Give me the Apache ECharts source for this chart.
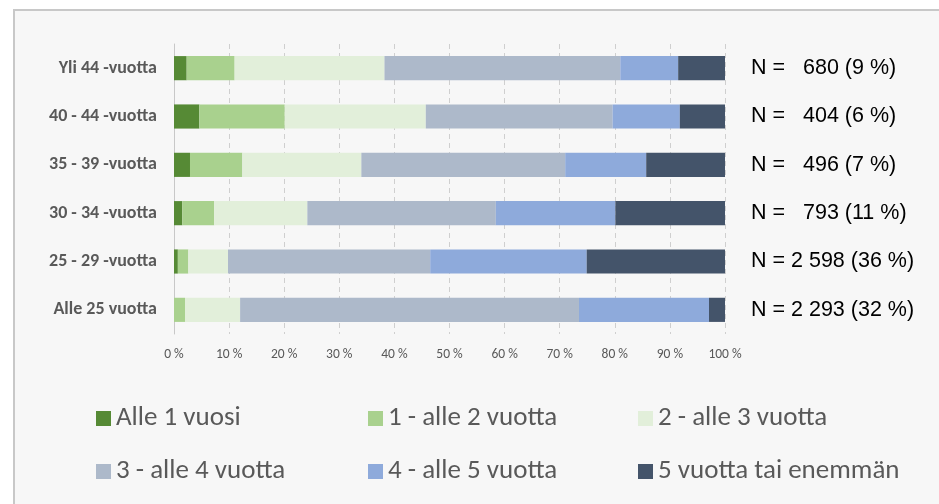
<!DOCTYPE html>
<html>
<head>
<meta charset="utf-8">
<script src="https://cdn.jsdelivr.net/npm/echarts@6/dist/echarts.min.js"></script>
<style>html,body{margin:0;padding:0;background:#fff}#c{width:939px;height:504px}</style>
</head>
<body>
<div id="c"></div>
<script>
// Categories (top to bottom)
const categories = ["Yli 44 -vuotta", "40 - 44 -vuotta", "35 - 39 -vuotta", "30 - 34 -vuotta", "25 - 29 -vuotta", "Alle 25 vuotta"];
const nLabels = ["N =   680 (9 %)", "N =   404 (6 %)", "N =   496 (7 %)", "N =   793 (11 %)", "N = 2 598 (36 %)", "N = 2 293 (32 %)"];
const seriesNames = ["Alle 1 vuosi", "1 - alle 2 vuotta", "2 - alle 3 vuotta", "3 - alle 4 vuotta", "4 - alle 5 vuotta", "5 vuotta tai enemmän"];
// Percent values per series, in category order (top to bottom)
const alle1 = [2.3, 4.6, 2.9, 1.5, 0.7, 0.0];
const v1to2 = [8.7, 15.5, 9.5, 5.8, 1.9, 2.0];
const v2to3 = [27.2, 25.6, 21.6, 16.9, 7.2, 10.0];
const v3to4 = [42.8, 33.9, 37.0, 34.2, 36.7, 61.5];
const v4to5 = [10.5, 12.2, 14.7, 21.7, 28.4, 23.6];
const v5plus = [8.5, 8.2, 14.3, 19.9, 25.1, 2.9];
const xTicks = [0, 10, 20, 30, 40, 50, 60, 70, 80, 90, 100];

const colors = ["#568a35", "#a9d18e", "#e2efda", "#adb9ca", "#8eaadb", "#44546a"];
const values = [alle1, v1to2, v2to3, v3to4, v4to5, v5plus];

const chart = echarts.init(document.getElementById('c'), null, {renderer: 'canvas'});
const legendFont = {fontFamily: 'Carlito, Lato', fontSize: 27, color: '#595959', lineHeight: 26};
const legendBase = {orient: 'vertical', top: 405, itemWidth: 15, itemHeight: 15, itemGap: 26, icon: 'rect', textStyle: legendFont, padding: 0};
chart.setOption({
  backgroundColor: '#ffffff',
  animation: false,
  graphic: [{type: 'rect', left: 13, top: 9, z: -10, shape: {width: 940, height: 500}, style: {fill: '#f7f7f7', stroke: '#c8c8c8', lineWidth: 2}}],
  grid: {left: 174, right: 214, top: 44, bottom: 170, containLabel: false},
  legend: [
    Object.assign({}, legendBase, {left: 96, data: [seriesNames[0], seriesNames[3]]}),
    Object.assign({}, legendBase, {left: 368, data: [seriesNames[1], seriesNames[4]]}),
    Object.assign({}, legendBase, {left: 638, data: [seriesNames[2], seriesNames[5]]})
  ],
  xAxis: {
    type: 'value', min: 0, max: 100, interval: 10,
    axisLine: {show: false}, axisTick: {show: false},
    splitLine: {show: true, lineStyle: {color: '#cfcfcf', type: [5, 4], width: 1}},
    axisLabel: {formatter: v => v + ' %', fontFamily: 'Carlito, Lato', fontSize: 13.5, color: '#595959', margin: 14}
  },
  yAxis: [
    {type: 'category', data: categories, inverse: true,
     axisLine: {show: true, lineStyle: {color: '#c8c8c8', width: 1}}, axisTick: {show: false},
     axisLabel: {fontFamily: 'Carlito, Lato', fontWeight: 'bold', fontSize: 18, color: '#595959', margin: 17}},
    {type: 'category', data: nLabels, inverse: true, position: 'right',
     axisLine: {show: false}, axisTick: {show: false},
     axisLabel: {fontFamily: 'Liberation Sans, Arial', fontSize: 21.5, color: '#000000', align: 'left', margin: 26}}
  ],
  series: seriesNames.map((name, i) => ({
    name: name, type: 'bar', stack: 'total', barWidth: '50%',
    itemStyle: {color: colors[i]}, data: values[i]
  }))
});
</script>
</body>
</html>
